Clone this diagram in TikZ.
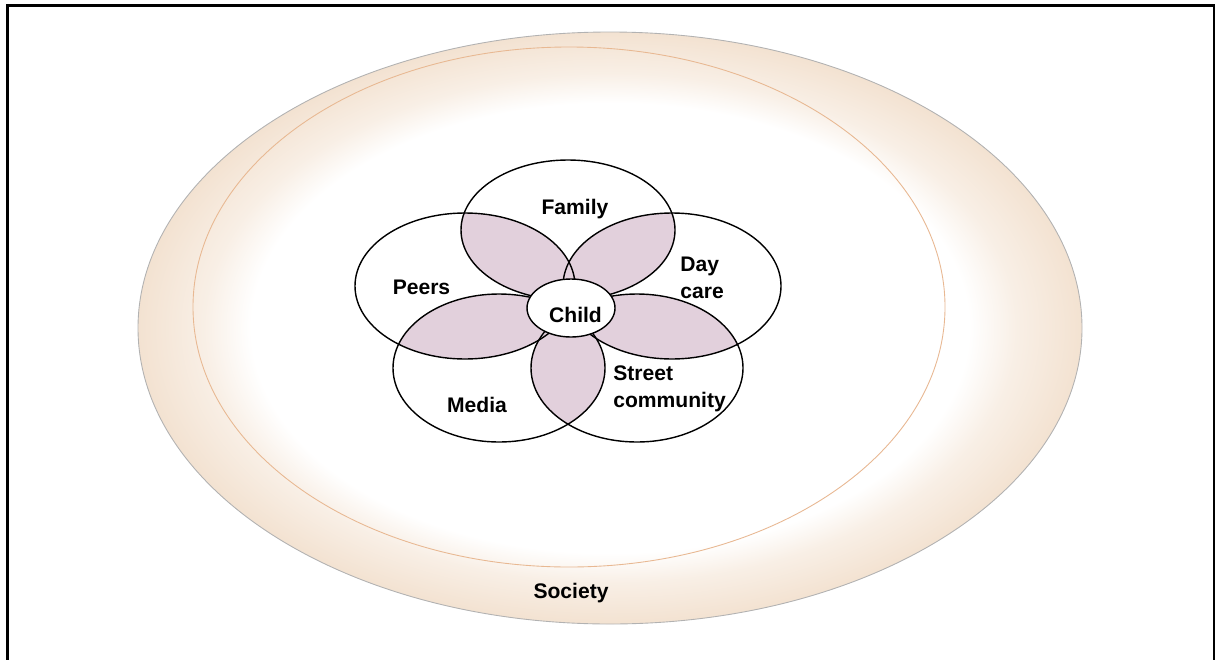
\documentclass[tikz,border=0pt]{standalone}
\usepackage{fontspec}
\setmainfont{Liberation Sans}
\definecolor{ringpeach}{RGB}{243,226,209}
\definecolor{ringline}{RGB}{232,184,146}
\definecolor{petal}{RGB}{226,208,220}
\pgfdeclareradialshading{societyshade}{\pgfpointorigin}{color(0bp)=(white); color(19bp)=(white); color(21.5bp)=(ringpeach!55!white); color(25bp)=(ringpeach); color(50bp)=(ringpeach)}

\newcommand{\familypath}{(568,230) ellipse [x radius=107, y radius=70]}
\newcommand{\peerspath}{(465,286) ellipse [x radius=110, y radius=73]}
\newcommand{\daycarepath}{(672,286) ellipse [x radius=109, y radius=73]}
\newcommand{\mediapath}{(499,368) ellipse [x radius=106, y radius=74]}
\newcommand{\streetpath}{(637,368) ellipse [x radius=106, y radius=74]}
\newcommand{\childpath}{(571,308) ellipse [x radius=44, y radius=29]}

\begin{document}
\begin{tikzpicture}[x=0.2mm, y=-0.2mm,
    word/.style={font=\fontsize{12}{15.4}\selectfont\bfseries, inner sep=0},
    ring/.style={line width=0.8pt}]
  \useasboundingbox (0,0) rectangle (1216,659);
  \draw[line width=1.2pt] (7.5,680) -- (7.5,5.5) -- (1214,5.5) -- (1214,680);

  \shade[shading=societyshade, draw=black!30, line width=0.5pt] (610,328) ellipse [x radius=472, y radius=296];
  \draw[ringline, line width=0.5pt] (569,307) ellipse [x radius=376, y radius=260];

  \fill[white] \familypath;
  \fill[white] \peerspath;
  \fill[white] \daycarepath;
  \fill[white] \mediapath;
  \fill[white] \streetpath;

  \begin{scope}
    \clip \familypath;
    \fill[petal] \peerspath;
    \fill[petal] \daycarepath;
  \end{scope}
  \begin{scope}
    \clip \mediapath;
    \fill[petal] \peerspath;
    \fill[petal] \streetpath;
  \end{scope}
  \begin{scope}
    \clip \daycarepath;
    \fill[petal] \streetpath;
  \end{scope}

  \draw[ring] \familypath;
  \draw[ring] \peerspath;
  \draw[ring] \daycarepath;
  \draw[ring] \mediapath;
  \draw[ring] \streetpath;
  \filldraw[ring, fill=white] \childpath;

  \node[word, anchor=base] (family) at (575,214) {Family};
  \node[word, anchor=base] (peers) at (421.5,294) {Peers};
  \node[word, anchor=west, align=left] (daycare) at (680,278) {Day\\care};
  \node[word, anchor=base] (child) at (575.5,322) {Child};
  \node[word, anchor=west, align=left] (street) at (613,389) {Street\\community};
  \node[word, anchor=base] (media) at (477,412) {Media};
  \node[word, anchor=base] (society) at (571,598) {Society};
\end{tikzpicture}
\end{document}
